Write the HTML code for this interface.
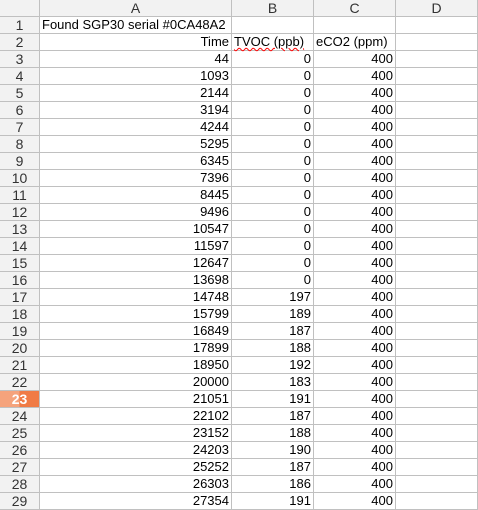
<!DOCTYPE html>
<html><head><meta charset="utf-8"><style>
body{margin:0;width:478px;height:510px;overflow:hidden;background:#fff;font-family:"Liberation Sans",sans-serif;font-size:13px;color:#000}
.c{position:absolute;box-sizing:border-box;border-right:1px solid #c0c0c0;border-bottom:1px solid #c0c0c0;height:17px;line-height:16px;white-space:nowrap;overflow:visible;padding:0 2px}
.h{background:#f2f2f2;color:#333;text-align:center;font-size:14px}
.r{text-align:right}
</style></head><body>
<div id="g"></div>
<script>
const times=[44,1093,2144,3194,4244,5295,6345,7396,8445,9496,10547,11597,12647,13698,14748,15799,16849,17899,18950,20000,21051,22102,23152,24203,25252,26303,27354];
const tvoc=[0,0,0,0,0,0,0,0,0,0,0,0,0,0,197,189,187,188,192,183,191,187,188,190,187,186,191];
const eco2=[400,400,400,400,400,400,400,400,400,400,400,400,400,400,400,400,400,400,400,400,400,400,400,400,400,400,400];
const g=document.getElementById('g');
const xs=[0,40,232,314,396,478];
function cell(col,row,text,cls,name,inter){
 const d=document.createElement('div');
 d.className='c '+cls;
 d.style.left=xs[col]+'px';d.style.width=(xs[col+1]-xs[col])+'px';
 const top=row===0?0:17+(row-1)*17;
 d.style.top=top+'px';
 d.textContent=text;
 
 
 g.appendChild(d);return d;
}
cell(0,0,'','h','corner-cell','true');
['A','B','C','D'].forEach((l,i)=>{cell(i+1,0,l,'h','column-header-'+l.toLowerCase(),'true');});
for(let r=1;r<=29;r++){
 const h=cell(0,r,String(r),'h','row-header-'+r,'true');
 if(r===23){h.style.background='linear-gradient(90deg,#f5a37c 50%,#f07b45 50%)';h.style.color='#fff';h.style.fontWeight='bold';}
 for(let c=1;c<=4;c++){
  let t='',cls='r';
  if(r===1&&c===1){t='Found SGP30 serial #0CA48A2';cls='';}
  else if(r===2){t=['','Time','TVOC (ppb)','eCO2 (ppm)',''][c];cls=c===1?'r':'';}
  else if(r>=3&&c<4){t=String([times,tvoc,eco2][c-1][r-3]);}
  const d=cell(c,r,t,cls,'cell-'+'abcd'[c-1]+r,'true');
  if(r===2&&c===2){d.style.textDecoration='underline wavy red';d.style.textDecorationThickness='1px';}
 }
}
</script>
</body></html>
